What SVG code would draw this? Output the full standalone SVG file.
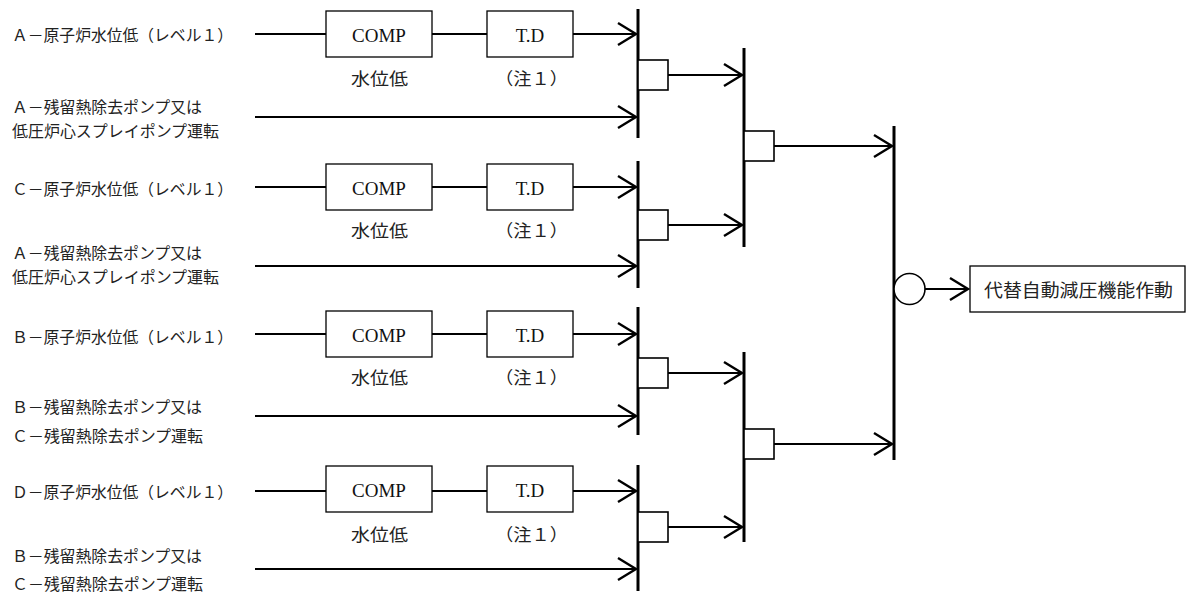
<svg xmlns="http://www.w3.org/2000/svg" width="1191" height="592" viewBox="0 0 1191 592">
<defs>
<marker id="arr" markerUnits="userSpaceOnUse" markerWidth="40" markerHeight="40" viewBox="-30 -20 40 40" refX="0" refY="0" orient="auto" overflow="visible">
<path d="M-18,-11 L0,0 L-18,11" fill="none" stroke="#000" stroke-width="2.4"/>
</marker>
<style>
.ln{stroke:#000;stroke-width:2.2;fill:none}
.ar{stroke:#000;stroke-width:2.2;fill:none;marker-end:url(#arr)}
.bar{stroke:#000;stroke-width:3;fill:none}
.box{fill:#fff;stroke:#000;stroke-width:1.3}
.sq{fill:#fff;stroke:#000;stroke-width:1.6}
.lbl{font-family:"Liberation Serif","Noto Sans CJK JP",serif;font-size:16px;fill:#222}
.sub{font-family:"Liberation Serif","Noto Sans CJK JP",serif;font-size:17px;fill:#222}
.blk{font-family:"Liberation Serif","Noto Sans CJK JP",serif;font-size:19px;fill:#111;text-anchor:middle}
.out{font-family:"Noto Sans CJK JP",sans-serif;font-size:18px;fill:#222}
</style>
</defs>
<rect width="1191" height="592" fill="#fff"/>

<!-- connectors -->
<g id="connectors">
<!-- group 1 -->
<line class="ln" x1="255" y1="34" x2="326" y2="34"/>
<line class="ln" x1="432" y1="34" x2="487" y2="34"/>
<line class="ar" x1="573" y1="34" x2="636" y2="34"/>
<line class="ar" x1="255" y1="117" x2="636" y2="117"/>
<line class="ar" x1="668" y1="75" x2="742" y2="75"/>
<!-- group 2 -->
<line class="ln" x1="255" y1="187" x2="326" y2="187"/>
<line class="ln" x1="432" y1="187" x2="487" y2="187"/>
<line class="ar" x1="573" y1="187" x2="636" y2="187"/>
<line class="ar" x1="255" y1="266" x2="636" y2="266"/>
<line class="ar" x1="668" y1="225" x2="742" y2="225"/>
<!-- group 3 -->
<line class="ln" x1="255" y1="334" x2="326" y2="334"/>
<line class="ln" x1="432" y1="334" x2="487" y2="334"/>
<line class="ar" x1="573" y1="334" x2="636" y2="334"/>
<line class="ar" x1="255" y1="416" x2="636" y2="416"/>
<line class="ar" x1="668" y1="373" x2="742" y2="373"/>
<!-- group 4 -->
<line class="ln" x1="255" y1="491" x2="326" y2="491"/>
<line class="ln" x1="432" y1="491" x2="487" y2="491"/>
<line class="ar" x1="573" y1="491" x2="636" y2="491"/>
<line class="ar" x1="255" y1="569" x2="636" y2="569"/>
<line class="ar" x1="668" y1="527" x2="742" y2="527"/>
<!-- second level -->
<line class="ar" x1="774" y1="146" x2="892" y2="146"/>
<line class="ar" x1="774" y1="444" x2="892" y2="444"/>
<!-- output -->
<line class="ar" x1="925" y1="289" x2="968" y2="289"/>
</g>

<!-- input labels -->
<g id="in-a-level1"><text class="lbl" x="12" y="35" dominant-baseline="central" textLength="221" lengthAdjust="spacingAndGlyphs">Ａ－原子炉水位低（レベル１）</text></g>
<g id="in-a-rhr1"><text class="lbl" x="12" y="107" dominant-baseline="central" textLength="190" lengthAdjust="spacingAndGlyphs">Ａ－残留熱除去ポンプ又は</text><text class="lbl" x="12" y="131" dominant-baseline="central" textLength="207" lengthAdjust="spacingAndGlyphs">低圧炉心スプレイポンプ運転</text></g>
<g id="in-c-level1"><text class="lbl" x="12" y="189" dominant-baseline="central" textLength="221" lengthAdjust="spacingAndGlyphs">Ｃ－原子炉水位低（レベル１）</text></g>
<g id="in-a-rhr2"><text class="lbl" x="12" y="253" dominant-baseline="central" textLength="190" lengthAdjust="spacingAndGlyphs">Ａ－残留熱除去ポンプ又は</text><text class="lbl" x="12" y="277" dominant-baseline="central" textLength="207" lengthAdjust="spacingAndGlyphs">低圧炉心スプレイポンプ運転</text></g>
<g id="in-b-level1"><text class="lbl" x="12" y="337" dominant-baseline="central" textLength="221" lengthAdjust="spacingAndGlyphs">Ｂ－原子炉水位低（レベル１）</text></g>
<g id="in-b-rhr1"><text class="lbl" x="12" y="407" dominant-baseline="central" textLength="190" lengthAdjust="spacingAndGlyphs">Ｂ－残留熱除去ポンプ又は</text><text class="lbl" x="12" y="436" dominant-baseline="central" textLength="191" lengthAdjust="spacingAndGlyphs">Ｃ－残留熱除去ポンプ運転</text></g>
<g id="in-d-level1"><text class="lbl" x="12" y="492" dominant-baseline="central" textLength="221" lengthAdjust="spacingAndGlyphs">Ｄ－原子炉水位低（レベル１）</text></g>
<g id="in-b-rhr2"><text class="lbl" x="12" y="556" dominant-baseline="central" textLength="190" lengthAdjust="spacingAndGlyphs">Ｂ－残留熱除去ポンプ又は</text><text class="lbl" x="12" y="584" dominant-baseline="central" textLength="191" lengthAdjust="spacingAndGlyphs">Ｃ－残留熱除去ポンプ運転</text></g>

<!-- COMP / T.D blocks -->
<g id="comp1"><rect class="box" x="326" y="11" width="106" height="46"/><text class="blk" x="379" y="35" dominant-baseline="central">COMP</text><text class="sub" x="351" y="79" dominant-baseline="central" textLength="57" lengthAdjust="spacingAndGlyphs">水位低</text></g>
<g id="td1"><rect class="box" x="487" y="11" width="86" height="46"/><text class="blk" x="530" y="35" dominant-baseline="central">T.D</text><text class="sub" x="495" y="79" dominant-baseline="central" textLength="73" lengthAdjust="spacingAndGlyphs">（注１）</text></g>

<g id="comp2"><rect class="box" x="326" y="164" width="106" height="46"/><text class="blk" x="379" y="188" dominant-baseline="central">COMP</text><text class="sub" x="351" y="231" dominant-baseline="central" textLength="57" lengthAdjust="spacingAndGlyphs">水位低</text></g>
<g id="td2"><rect class="box" x="487" y="164" width="86" height="46"/><text class="blk" x="530" y="188" dominant-baseline="central">T.D</text><text class="sub" x="495" y="231" dominant-baseline="central" textLength="73" lengthAdjust="spacingAndGlyphs">（注１）</text></g>

<g id="comp3"><rect class="box" x="326" y="311" width="106" height="46"/><text class="blk" x="379" y="335" dominant-baseline="central">COMP</text><text class="sub" x="351" y="378" dominant-baseline="central" textLength="57" lengthAdjust="spacingAndGlyphs">水位低</text></g>
<g id="td3"><rect class="box" x="487" y="311" width="86" height="46"/><text class="blk" x="530" y="335" dominant-baseline="central">T.D</text><text class="sub" x="495" y="378" dominant-baseline="central" textLength="73" lengthAdjust="spacingAndGlyphs">（注１）</text></g>

<g id="comp4"><rect class="box" x="326" y="466" width="106" height="46"/><text class="blk" x="379" y="490" dominant-baseline="central">COMP</text><text class="sub" x="351" y="535" dominant-baseline="central" textLength="57" lengthAdjust="spacingAndGlyphs">水位低</text></g>
<g id="td4"><rect class="box" x="487" y="466" width="86" height="46"/><text class="blk" x="530" y="490" dominant-baseline="central">T.D</text><text class="sub" x="495" y="535" dominant-baseline="central" textLength="73" lengthAdjust="spacingAndGlyphs">（注１）</text></g>

<!-- first-level AND gates -->
<g id="and1"><line class="bar" x1="638" y1="9" x2="638" y2="138"/><rect class="sq" x="638" y="60" width="30" height="30"/></g>
<g id="and2"><line class="bar" x1="638" y1="161" x2="638" y2="288"/><rect class="sq" x="638" y="210" width="30" height="30"/></g>
<g id="and3"><line class="bar" x1="638" y1="307" x2="638" y2="435"/><rect class="sq" x="638" y="358" width="30" height="30"/></g>
<g id="and4"><line class="bar" x1="638" y1="465" x2="638" y2="591"/><rect class="sq" x="638" y="512" width="30" height="30"/></g>

<!-- second-level gates -->
<g id="and5"><line class="bar" x1="744" y1="48" x2="744" y2="247"/><rect class="sq" x="744" y="131" width="30" height="30"/></g>
<g id="and6"><line class="bar" x1="744" y1="352" x2="744" y2="542"/><rect class="sq" x="744" y="429" width="30" height="30"/></g>

<!-- final gate -->
<g id="or1"><line class="bar" x1="894" y1="126" x2="894" y2="460"/><circle cx="909.5" cy="289" r="15.5" fill="#fff" stroke="#000" stroke-width="1.6"/></g>

<!-- output -->
<g id="output"><rect class="box" x="970" y="266" width="215" height="46"/><text class="out" x="984" y="289" dominant-baseline="central" textLength="189" lengthAdjust="spacingAndGlyphs">代替自動減圧機能作動</text></g>
</svg>
